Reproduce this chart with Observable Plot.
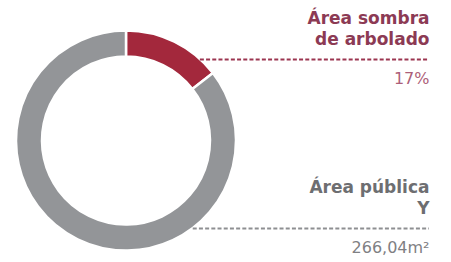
<!DOCTYPE html>
<html>
<head>
<meta charset="utf-8">
<script src="https://cdn.jsdelivr.net/npm/d3@7"></script>
<script src="https://cdn.jsdelivr.net/npm/@observablehq/plot@0.6"></script>
<style>
  html, body { margin: 0; padding: 0; background: #fff; }
  #chart svg { display: block; }
</style>
</head>
<body>
<div id="chart"></div>
<script>
// ---- data ----
const categories = ["Área sombra de arbolado", "Área pública Y"];
const shares = [14.5, 85.5];                 // slice sizes as drawn
const titleLine1 = ["Área sombra", "Área pública"];
const titleLine2 = ["de arbolado", "Y"];
const valueLabels = ["17%", "266,04m²"];
const leaderLevels = [0.741, -0.795];        // leader height, in donut radii
const sliceColors = ["#a3283c", "#939598"];
const titleColors = ["#8c3a54", "#6d6e71"];
const valueColors = ["#ad5f79", "#7f8083"];
const leaderColors = ["#9b3550", "#8e8f92"];

// ---- layout (units = outer radius) ----
const W = 451, H = 262, R = 110, CX = 126, CY = 140.5;
const innerRatio = 84 / 110;
const labelX = (429 - CX) / R;

const rows = categories.map((c, i) => ({
  category: c,
  share: shares[i],
  t1: titleLine1[i],
  t2: titleLine2[i],
  value: valueLabels[i],
  y: leaderLevels[i],
  x1: Math.sqrt(1 - leaderLevels[i] ** 2),
  x2: labelX,
  color: sliceColors[i],
  tcolor: titleColors[i],
  vcolor: valueColors[i],
  lcolor: leaderColors[i]
}));

function donut(data) {
  return (index, scales, values, dimensions) => {
    const cx = scales.x(0), cy = scales.y(0);
    const r = scales.x(1) - scales.x(0);
    const pie = d3.pie().sort(null).value(d => d.share)(data);
    const arc = d3.arc().innerRadius(r * innerRatio).outerRadius(r);
    const g = d3.create("svg:g").attr("transform", `translate(${cx},${cy})`);
    g.selectAll("path").data(pie).join("path")
      .attr("d", arc)
      .attr("fill", d => d.data.color)
      .attr("stroke", "#fff")
      .attr("stroke-width", 2.5)
      .attr("stroke-linejoin", "round");
    return g.node();
  };
}

const font = "DejaVu Sans, sans-serif";

const plot = Plot.plot({
  width: W,
  height: H,
  margin: 0,
  style: { background: "#fff", fontFamily: font, overflow: "visible" },
  x: { domain: [-CX / R, (W - CX) / R], range: [0, W], axis: null },
  y: { domain: [-(H - CY) / R, CY / R], range: [H, 0], axis: null },
  marks: [
    donut(rows),
    Plot.ruleY(rows, {
      y: "y", x1: "x1", x2: "x2",
      stroke: d => d.lcolor, strokeWidth: 2, strokeDasharray: "4,2.2"
    }),
    Plot.text(rows, {
      x: "x2", y: "y", text: "t1", textAnchor: "end", lineAnchor: "middle",
      dy: -41, fill: d => d.tcolor, fontSize: 17, fontWeight: "bold"
    }),
    Plot.text(rows, {
      x: "x2", y: "y", text: "t2", textAnchor: "end", lineAnchor: "middle",
      dy: -20, fill: d => d.tcolor, fontSize: 17, fontWeight: "bold"
    }),
    Plot.text(rows, {
      x: "x2", y: "y", text: "value", textAnchor: "end", lineAnchor: "middle",
      dy: 19.5, fill: d => d.vcolor, fontSize: 16
    })
  ]
});

document.getElementById("chart").appendChild(plot);
</script>
</body>
</html>
